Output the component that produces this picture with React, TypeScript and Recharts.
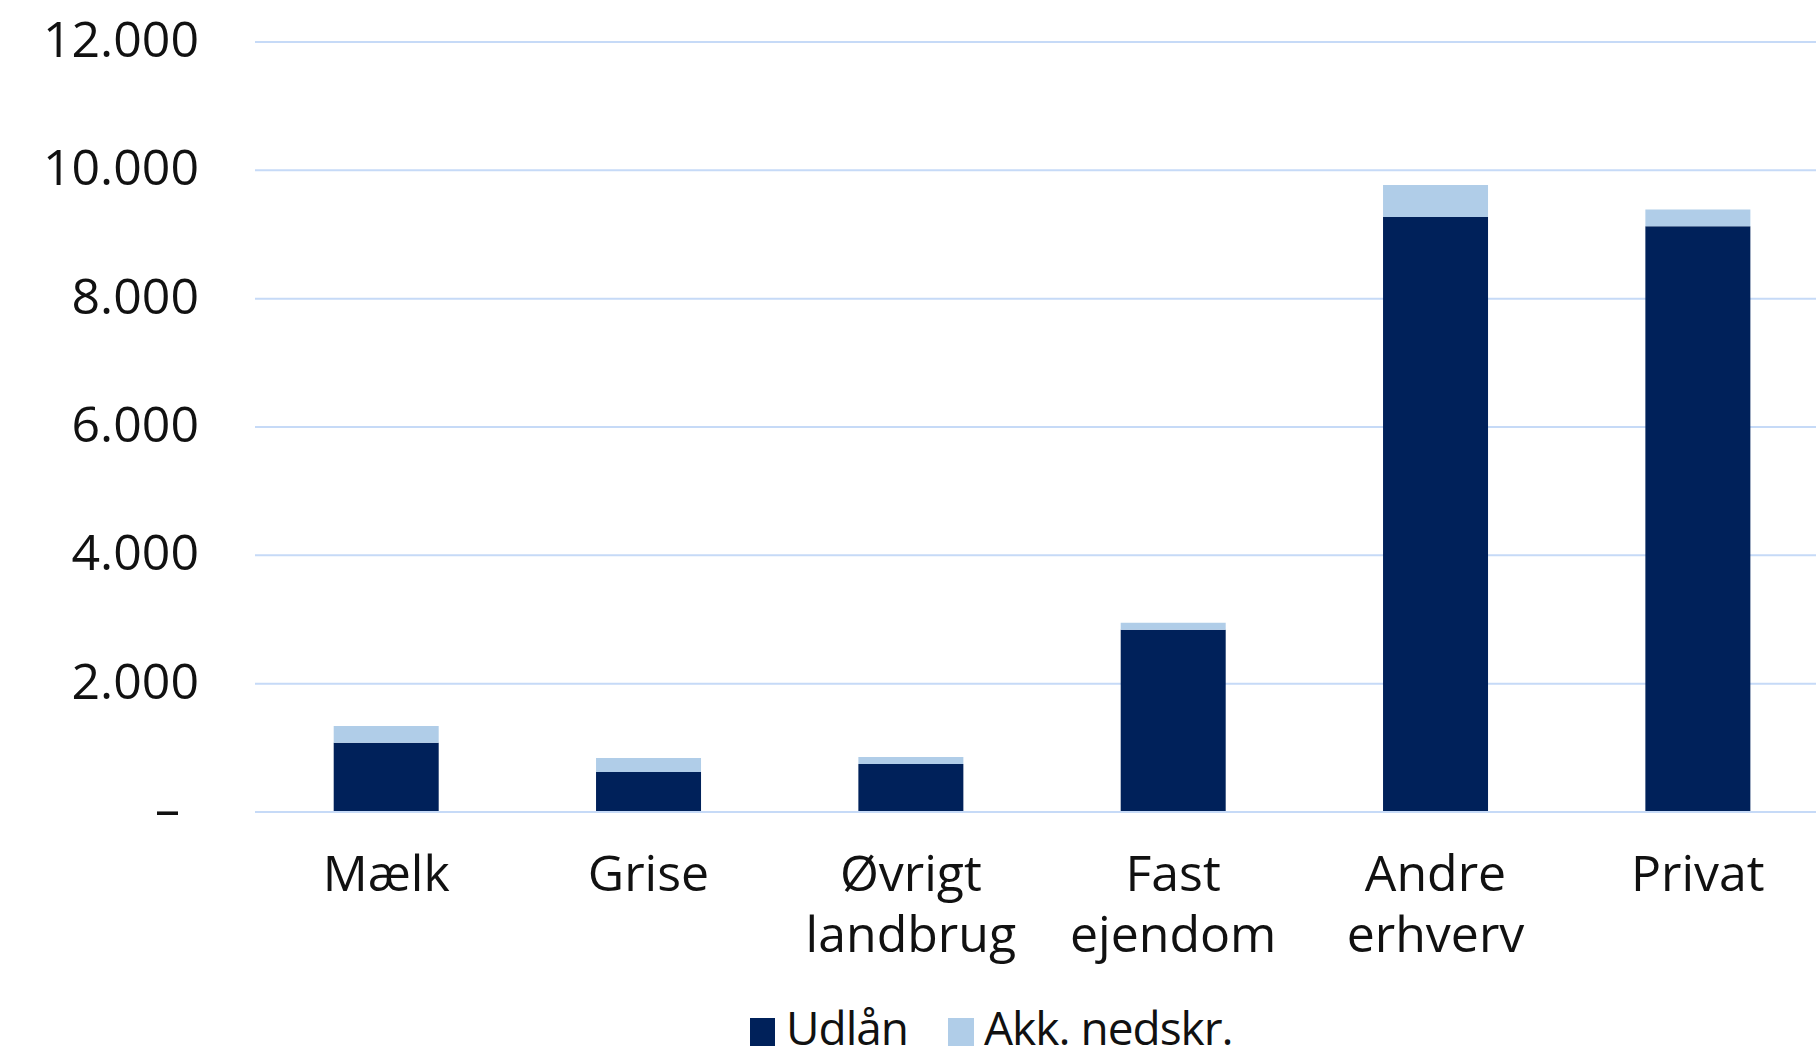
import { BarChart, Bar, XAxis, YAxis, CartesianGrid, Legend } from 'recharts';

const categories = ['Mælk', 'Grise', 'Øvrigt landbrug', 'Fast ejendom', 'Andre erhverv', 'Privat'];
const udlaan = [1080, 623, 748, 2840, 9273, 9128];
const nedskr = [260, 218, 109, 110, 500, 260];
const yTicks = [0, 2000, 4000, 6000, 8000, 10000, 12000];

const DARK = '#00215A';
const LIGHT = '#B0CDE8';
const GRID = '#C6DAF7';
const FONT = '"Open Sans", "Noto Sans", sans-serif';

const data = categories.map((name, i) => ({
  name,
  Udlån: udlaan[i],
  'Akk. nedskr.': nedskr[i],
}));

const formatTick = (v: number) =>
  v === 0 ? '–' : v.toLocaleString('da-DK').replace(/,/g, '.');

const YTick = ({ x, y, payload }: any) => {
  const v = Number(payload.value);
  return (
    <text
      x={x - (v === 0 ? 19 : 0)}
      y={y}
      dy="0.3em"
      textAnchor="end"
      fontSize={50}
      fontFamily={FONT}
      fill="#111"
    >
      {formatTick(v)}
    </text>
  );
};

// category names wrap onto two lines, one <text> per line
const XTick = ({ x, y, payload }: any) => {
  const lines = String(payload.value).split(' ');
  return (
    <g>
      {lines.map((line, i) => (
        <text key={i} x={x} y={y + 71 + i * 61} textAnchor="middle" fontSize={50} fontFamily={FONT} fill="#111">
          {line}
        </text>
      ))}
    </g>
  );
};

const labelStyle = {
  position: 'absolute' as const,
  bottom: -11,
  lineHeight: '60px',
  whiteSpace: 'nowrap' as const,
  letterSpacing: -1,
};

const LegendContent = () => (
  <div
    style={{
      height: 50,
      position: 'relative',
      fontFamily: FONT,
      fontSize: 46,
      color: '#111',
    }}
  >
    <div style={{ position: 'absolute', left: 750, bottom: 0, width: 25, height: 28, background: DARK }} />
    <div style={{ ...labelStyle, left: 786 }}>Udlån</div>
    <div style={{ position: 'absolute', left: 948, bottom: 0, width: 26, height: 28, background: LIGHT }} />
    <div style={{ ...labelStyle, left: 984 }}>Akk. nedskr.</div>
  </div>
);

const App = () => {
  return (
    <div style={{ position: 'absolute', left: 0, top: 0, width: 1816, height: 1046, background: '#fff', overflow: 'hidden' }}>
      <BarChart
        width={1816}
        height={1046}
        data={data}
        margin={{ top: 42, right: -13, left: 0, bottom: 0 }}
        barCategoryGap="30%"
      >
        <CartesianGrid vertical={false} stroke={GRID} strokeWidth={2} />
        <XAxis
          dataKey="name"
          height={184}
          interval={0}
          tick={<XTick />}
          tickLine={false}
          axisLine={{ stroke: GRID, strokeWidth: 2 }}
        />
        <YAxis
          width={255}
          domain={[0, 12000]}
          ticks={yTicks}
          tick={<YTick />}
          tickLine={false}
          tickSize={0}
          tickMargin={56}
          axisLine={false}
        />
        <Legend content={<LegendContent />} verticalAlign="bottom" height={50} wrapperStyle={{ left: 0, width: 1816 }} />
        <Bar dataKey="Udlån" stackId="a" fill={DARK} isAnimationActive={false} />
        <Bar dataKey="Akk. nedskr." stackId="a" fill={LIGHT} isAnimationActive={false} />
      </BarChart>
    </div>
  );
};

export default App;
